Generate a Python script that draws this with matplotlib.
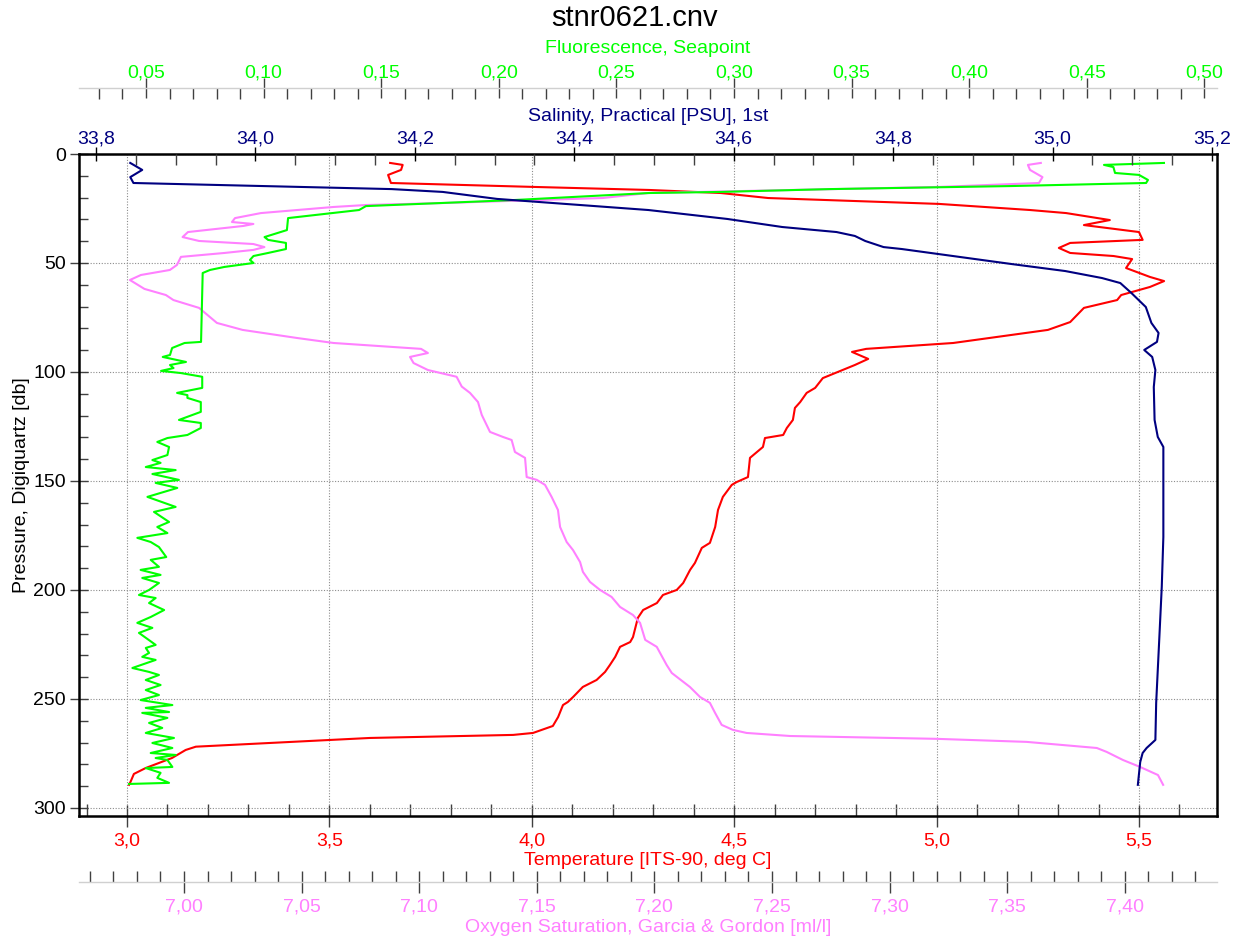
import matplotlib.pyplot as plt
from matplotlib.ticker import MultipleLocator, FuncFormatter

plt.rcParams['font.family'] = ['Liberation Sans', 'DejaVu Sans']

# Temperatura [ITS-90, deg C] frente a presion [db]
temp_pres = [4.1, 5.0, 7.3, 9.6, 13.3, 15.1, 16.5, 17.9, 20.2, 22.9, 25.7, 27.1, 30.3, 32.6,
             35.8, 39.4, 40.8, 43.1, 45.4, 46.8, 48.2, 52.3, 56.4, 58.3, 61.0, 64.7, 67.0,
             70.6, 77.1, 80.7, 86.7, 89.4, 90.8, 94.0, 96.8, 102.8, 107.3, 109.6, 113.8,
             116.5, 122.0, 125.7, 128.9, 130.3, 134.4, 139.4, 148.2, 150.5, 151.8, 157.3,
             163.3, 171.1, 178.4, 180.7, 187.6, 190.8, 196.8, 200.0, 202.3, 206.0, 209.2,
             212.8, 221.6, 223.9, 226.1, 230.7, 234.4, 237.6, 241.3, 244.5, 249.1, 251.4,
             252.8, 258.3, 262.4, 265.6, 266.5, 267.9, 271.9, 273.4, 277.1, 281.7, 284.4,
             287.9, 289.4]
temp_vals = [3.650, 3.681, 3.677, 3.645, 3.652, 4.004, 4.290, 4.467, 4.584, 5.006, 5.231,
             5.320, 5.428, 5.364, 5.500, 5.509, 5.330, 5.302, 5.330, 5.437, 5.483, 5.468,
             5.527, 5.562, 5.527, 5.456, 5.446, 5.364, 5.330, 5.275, 5.041, 4.826, 4.791,
             4.831, 4.798, 4.719, 4.700, 4.679, 4.663, 4.650, 4.645, 4.630, 4.621, 4.576,
             4.571, 4.539, 4.534, 4.506, 4.494, 4.472, 4.460, 4.453, 4.440, 4.420, 4.403,
             4.391, 4.374, 4.358, 4.324, 4.309, 4.275, 4.262, 4.250, 4.243, 4.218, 4.206,
             4.193, 4.181, 4.160, 4.126, 4.102, 4.089, 4.077, 4.065, 4.052, 4.003, 3.954,
             3.600, 3.170, 3.145, 3.111, 3.046, 3.017, 3.009, 3.005]

# Salinidad practica [PSU]
sal_pres = [4.1, 7.3, 10.6, 13.3, 16.1, 17.4, 20.6, 25.7, 29.8, 33.5, 35.8, 37.6, 39.9,
            42.7, 43.6, 45.9, 50.5, 53.7, 56.9, 59.2, 63.8, 70.2, 77.5, 82.1, 86.2, 89.9,
            93.1, 99.1, 106.9, 122.0, 129.8, 134.4, 145.0, 175.7, 198.6, 221.6, 251.8,
            268.8, 272.5, 274.8, 278.9, 289.4]
sal_vals = [33.843, 33.858, 33.843, 33.847, 34.171, 34.235, 34.303, 34.493, 34.592, 34.661,
            34.729, 34.752, 34.765, 34.788, 34.811, 34.857, 34.949, 35.016, 35.062, 35.085,
            35.099, 35.117, 35.124, 35.133, 35.131, 35.115, 35.125, 35.129, 35.127, 35.128,
            35.132, 35.139, 35.139, 35.139, 35.137, 35.134, 35.130, 35.129, 35.118, 35.113,
            35.110, 35.107]

# Fluorescencia, Seapoint
fl_pres = [4.1, 5.0, 6.0, 8.7, 9.6, 11.9, 13.3, 14.7, 16.1, 17.4, 17.9, 21.1, 23.9, 25.7,
           29.4, 34.9, 38.1, 39.4, 40.8, 43.6, 45.4, 46.8, 48.6, 50.0, 51.8, 53.2, 54.6,
           86.2, 86.7, 89.0, 92.2, 93.1, 95.4, 96.8, 98.2, 99.5, 100.5, 102.2, 107.3, 109.6,
           110.6, 111.9, 113.8, 118.3, 122.0, 123.4, 125.7, 128.9, 130.3, 132.1, 134.4,
           138.1, 140.4, 141.7, 143.6, 145.0, 146.8, 149.5, 150.9, 153.2, 157.3, 161.9,
           164.2, 168.8, 171.1, 173.9, 176.1, 178.0, 180.3, 184.9, 186.2, 189.4, 190.8,
           193.1, 194.5, 196.8, 200.0, 202.3, 203.7, 206.0, 209.2, 212.4, 215.1, 217.4,
           219.7, 225.2, 226.6, 228.9, 230.7, 232.1, 235.8, 237.6, 239.0, 241.3, 243.6,
           245.9, 248.2, 250.5, 252.8, 254.1, 256.0, 256.4, 258.7, 261.0, 263.3, 265.6,
           267.9, 270.2, 272.5, 274.8, 275.7, 277.1, 278.0, 281.2, 281.7, 283.9, 286.2,
           288.5, 289.0]
fl_vals = [0.4828, 0.4573, 0.4613, 0.4620, 0.4722, 0.4760, 0.4752, 0.4180, 0.3408, 0.2943,
           0.2639, 0.2069, 0.1435, 0.1406, 0.1104, 0.1099, 0.1004, 0.1019, 0.1095, 0.1095,
           0.1019, 0.0957, 0.0942, 0.0957, 0.0834, 0.0772, 0.0741, 0.0734, 0.0664, 0.0611,
           0.0602, 0.0571, 0.0670, 0.0602, 0.0617, 0.0564, 0.0649, 0.0739, 0.0739, 0.0632,
           0.0676, 0.0676, 0.0733, 0.0733, 0.0640, 0.0733, 0.0733, 0.0676, 0.0591, 0.0548,
           0.0598, 0.0591, 0.0527, 0.0562, 0.0499, 0.0626, 0.0527, 0.0640, 0.0541, 0.0633,
           0.0506, 0.0626, 0.0534, 0.0598, 0.0548, 0.0591, 0.0463, 0.0520, 0.0555, 0.0586,
           0.0520, 0.0555, 0.0477, 0.0562, 0.0484, 0.0555, 0.0513, 0.0470, 0.0541, 0.0513,
           0.0577, 0.0520, 0.0463, 0.0527, 0.0470, 0.0541, 0.0499, 0.0513, 0.0484, 0.0541,
           0.0442, 0.0513, 0.0555, 0.0499, 0.0562, 0.0499, 0.0555, 0.0477, 0.0612, 0.0499,
           0.0598, 0.0484, 0.0591, 0.0513, 0.0569, 0.0499, 0.0619, 0.0527, 0.0612, 0.0520,
           0.0626, 0.0541, 0.0591, 0.0612, 0.0499, 0.0562, 0.0548, 0.0598, 0.0428]

# Saturacion de oxigeno, Garcia & Gordon [ml/l]
ox_pres = [4.1, 5.0, 7.3, 10.6, 13.3, 15.1, 16.5, 17.9, 20.2, 22.5, 23.4, 24.3, 27.1, 29.4,
           31.2, 32.1, 33.0, 35.8, 38.1, 39.9, 41.3, 42.7, 44.0, 45.4, 47.2, 50.9, 53.2,
           55.5, 57.8, 61.9, 64.7, 67.0, 70.6, 77.5, 80.7, 84.4, 86.7, 89.4, 91.3, 93.1,
           95.9, 99.1, 102.2, 106.7, 109.6, 113.8, 119.7, 127.5, 129.8, 131.2, 136.7, 139.4,
           148.2, 149.5, 151.8, 157.3, 163.3, 171.1, 178.0, 181.7, 187.2, 191.7, 196.3,
           200.0, 203.2, 207.8, 211.5, 215.1, 222.9, 226.1, 234.4, 238.1, 244.5, 249.1,
           251.8, 256.4, 261.9, 264.2, 265.6, 267.0, 268.3, 269.7, 272.5, 274.3, 278.0,
           281.2, 284.9, 289.4]
ox_vals = [7.3643, 7.3588, 7.3597, 7.3650, 7.3635, 7.3210, 7.2589, 7.1973, 7.1780, 7.1099,
           7.0774, 7.0636, 7.0327, 7.0217, 7.0204, 7.0295, 7.0253, 7.0017, 6.9994, 7.0064,
           7.0295, 7.0342, 7.0295, 7.0172, 6.9987, 6.9970, 6.9940, 6.9817, 6.9770, 6.9832,
           6.9923, 6.9955, 7.0064, 7.0140, 7.0249, 7.0480, 7.0636, 7.1008, 7.1037, 7.0961,
           7.0976, 7.1037, 7.1159, 7.1181, 7.1216, 7.1250, 7.1266, 7.1301, 7.1356, 7.1393,
           7.1407, 7.1450, 7.1457, 7.1500, 7.1535, 7.1563, 7.1590, 7.1599, 7.1627, 7.1654,
           7.1684, 7.1696, 7.1726, 7.1769, 7.1818, 7.1854, 7.1909, 7.1939, 7.1961, 7.2010,
           7.2052, 7.2074, 7.2151, 7.2194, 7.2236, 7.2258, 7.2286, 7.2334, 7.2392, 7.2577,
           7.3200, 7.3583, 7.3881, 7.3923, 7.3992, 7.4065, 7.4141, 7.4163]

ROJO = '#FF0000'
AZUL = '#000080'
VERDE = '#00FF00'
ROSA = '#FF80FF'
GRIS = '#404040'
FS = 14


def coma(dec):
    # etiquetas con coma decimal
    return FuncFormatter(lambda v, pos: f"{v:.{dec}f}".replace('.', ','))


def ejes_limpios(a):
    for s in a.spines.values():
        s.set_visible(False)


fig = plt.figure(figsize=(12.4, 9.42), dpi=100)
ax = fig.add_axes([79 / 1240, 1 - 816 / 942, 1138 / 1240, 662 / 942])

# eje principal: temperatura (abajo) y presion
ax.plot(temp_vals, temp_pres, color=ROJO, lw=1.5)
ax.set_xlim(2.8814, 5.6927)
ax.set_ylim(303.7, 0)
ax.xaxis.set_major_locator(MultipleLocator(0.5))
ax.xaxis.set_minor_locator(MultipleLocator(0.1))
ax.xaxis.set_major_formatter(coma(1))
ax.yaxis.set_major_locator(MultipleLocator(50))
ax.yaxis.set_minor_locator(MultipleLocator(10))
ax.tick_params(axis='x', which='major', direction='inout', length=16, width=1, color=GRIS,
               labelcolor=ROJO, labelsize=FS, pad=4)
ax.tick_params(axis='x', which='minor', direction='in', length=8.5, width=1, color=GRIS)
ax.tick_params(axis='y', which='major', direction='inout', length=13, width=1, color=GRIS,
               labelsize=FS, pad=3)
ax.tick_params(axis='y', which='minor', direction='in', length=6.5, width=1, color=GRIS)
ax.tick_params(top=False, right=False, which='both')
ax.grid(True, which='major', linestyle=(0, (1, 1.5)), color='#8c8c8c', linewidth=0.8)
for s in ax.spines.values():
    s.set_linewidth(1.8)
    s.set_color('black')
ax.set_xlabel('Temperature [ITS-90, deg C]', color=ROJO, fontsize=FS)
ax.xaxis.set_label_coords(0.5, -0.0665)
ax.xaxis.label.set_va('center')
ax.set_ylabel('Pressure, Digiquartz [db]', fontsize=FS)
ax.yaxis.set_label_coords(-0.0501, 0.5)
ax.yaxis.label.set_va('center')

# oxigeno: segundo eje inferior
ax_ox = ax.twiny()
ejes_limpios(ax_ox)
ax_ox.plot(ox_vals, ox_pres, color=ROSA, lw=1.5)
ax_ox.set_xlim(6.95536, 7.43920)
ax_ox.xaxis.set_ticks_position('bottom')
ax_ox.xaxis.set_label_position('bottom')
ax_ox.spines['bottom'].set_visible(True)
ax_ox.spines['bottom'].set_position(('outward', 47.5))
ax_ox.spines['bottom'].set_color('#d0d0d0')
ax_ox.spines['bottom'].set_linewidth(1)
ax_ox.xaxis.set_major_locator(MultipleLocator(0.05))
ax_ox.xaxis.set_minor_locator(MultipleLocator(0.01))
ax_ox.xaxis.set_major_formatter(coma(2))
ax_ox.tick_params(axis='x', which='major', direction='inout', length=16, width=1, color=GRIS,
                  labelcolor=ROSA, labelsize=FS, pad=4)
ax_ox.tick_params(axis='x', which='minor', direction='in', length=8, width=1, color=GRIS)
ax_ox.set_xlabel('Oxygen Saturation, Garcia & Gordon [ml/l]', color=ROSA, fontsize=FS)
ax_ox.xaxis.set_label_coords(0.5, -0.1677)
ax_ox.xaxis.label.set_va('center')

# fluorescencia: segundo eje superior
ax_fl = ax.twiny()
ejes_limpios(ax_fl)
ax_fl.plot(fl_vals, fl_pres, color=VERDE, lw=1.5)
ax_fl.set_xlim(0.02151, 0.50535)
ax_fl.spines['top'].set_visible(True)
ax_fl.spines['top'].set_position(('outward', 47.5))
ax_fl.spines['top'].set_color('#d0d0d0')
ax_fl.spines['top'].set_linewidth(1)
ax_fl.xaxis.set_major_locator(MultipleLocator(0.05))
ax_fl.xaxis.set_minor_locator(MultipleLocator(0.01))
ax_fl.xaxis.set_major_formatter(coma(2))
ax_fl.tick_params(axis='x', which='major', direction='inout', length=15, width=1, color=GRIS,
                  labelcolor=VERDE, labelsize=FS, pad=-3)
ax_fl.tick_params(axis='x', which='minor', direction='in', length=8, width=1, color=GRIS)
ax_fl.set_xlabel('Fluorescence, Seapoint', color=VERDE, fontsize=FS)
ax_fl.xaxis.set_label_coords(0.5, 1.160)
ax_fl.xaxis.label.set_va('center')

# salinidad: eje superior sobre el marco
ax_sal = ax.twiny()
ejes_limpios(ax_sal)
ax_sal.plot(sal_vals, sal_pres, color=AZUL, lw=1.5)
ax_sal.set_xlim(33.7787, 35.2063)
ax_sal.xaxis.set_major_locator(MultipleLocator(0.2))
ax_sal.xaxis.set_minor_locator(MultipleLocator(0.05))
ax_sal.xaxis.set_major_formatter(coma(1))
ax_sal.tick_params(axis='x', which='major', direction='inout', length=10, width=1, color='black',
                   labelcolor=AZUL, labelsize=FS, pad=0)
ax_sal.tick_params(axis='x', which='minor', direction='in', length=8, width=1, color=GRIS)
ax_sal.set_xlabel('Salinity, Practical [PSU], 1st', color=AZUL, fontsize=FS)
ax_sal.xaxis.set_label_coords(0.5, 1.057)
ax_sal.xaxis.label.set_va('center')

fig.text(635 / 1240, 1 - 18 / 942, 'stnr0621.cnv', fontsize=21, ha='center', va='center')

fig.savefig('out.png', dpi=100)
